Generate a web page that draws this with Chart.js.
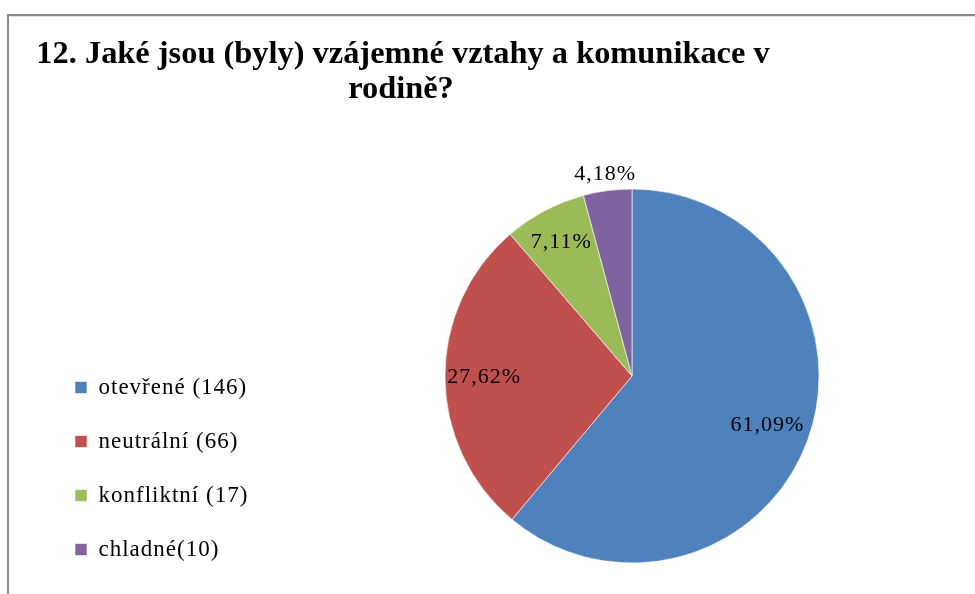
<!DOCTYPE html>
<html>
<head>
<meta charset="utf-8">
<script src="https://cdn.jsdelivr.net/npm/chart.js@4.4.0/dist/chart.umd.min.js"></script>
<style>
html, body { margin: 0; padding: 0; background: #fff; overflow: hidden; }
#pie_chart { display: block; }
</style>
</head>
<body>
<canvas id="pie_chart" width="1060" height="594"></canvas>
<script>
var titleLines = ["12. Jaké jsou (byly) vzájemné vztahy a komunikace v", "rodině?"]
var categories = ["otevřené (146)", "neutrální (66)", "konfliktní (17)", "chladné(10)"]
var counts = [146, 66, 17, 10]
var sliceColors = ["#4F81BD", "#C0504D", "#9BBB59", "#8064A2"]
// how far out each percentage label sits (share of the radius)
var labelRadius = [0.77, 0.79, 0.81, 1.09]

var serif = '"Liberation Serif", "Times New Roman", serif'

// white page, grey frame line at top and left, and the title
var framePlugin = {
    id: 'frame',
    beforeLayout: function (chart) {
        chart.ctx.letterSpacing = '1px'
    },
    beforeDraw: function (chart) {
        var c = chart.ctx
        c.save()
        c.fillStyle = '#fff'
        c.fillRect(0, 0, chart.width, chart.height)
        c.strokeStyle = '#8a8a8a'
        c.lineWidth = 2
        c.beginPath()
        c.moveTo(8, chart.height)
        c.lineTo(8, 15)
        c.lineTo(chart.width, 15)
        c.stroke()
        c.strokeStyle = '#e2e2e2'
        c.lineWidth = 1
        c.beginPath()
        c.moveTo(10, 16.5)
        c.lineTo(chart.width, 16.5)
        c.stroke()
        c.restore()
        c.letterSpacing = '1px'
    },
    afterDraw: function (chart) {
        var c = chart.ctx
        c.save()
        c.letterSpacing = '0px'
        c.fillStyle = '#000'
        c.font = 'bold 32.4px ' + serif
        c.textAlign = 'center'
        c.textBaseline = 'alphabetic'
        c.fillText(titleLines[0], 403, 63)
        c.fillText(titleLines[1], 401, 98)
        c.restore()
    }
}

// percentage labels on the slices
var percentPlugin = {
    id: 'percent',
    afterDatasetsDraw: function (chart) {
        var c = chart.ctx
        var total = counts.reduce(function (a, b) { return a + b }, 0)
        var arcs = chart.getDatasetMeta(0).data
        c.save()
        c.letterSpacing = '1px'
        c.fillStyle = '#000'
        c.font = '22px ' + serif
        c.textAlign = 'center'
        c.textBaseline = 'middle'
        arcs.forEach(function (arc, i) {
            var p = arc.getProps(['x', 'y', 'startAngle', 'endAngle', 'outerRadius'], true)
            var mid = (p.startAngle + p.endAngle) / 2
            var r = p.outerRadius * labelRadius[i]
            var txt = (counts[i] / total * 100).toFixed(2).replace('.', ',') + '%'
            c.fillText(txt, p.x + Math.cos(mid) * r, p.y + Math.sin(mid) * r)
        })
        c.restore()
    }
}

var ctx = document.getElementById("pie_chart")

var myPieChart = new Chart(ctx, {
    type: 'pie',
    data: {
        labels: categories,
        datasets: [
            {
                data: counts,
                backgroundColor: sliceColors,
                borderColor: 'rgba(255,255,255,0.6)',
                borderWidth: 1,
                radius: 187
            }
        ]
    },
    options: {
        responsive: false,
        animation: false,
        layout: {
            padding: { left: 44, right: 55, top: 160, bottom: 2 }
        },
        plugins: {
            tooltip: { enabled: false },
            legend: {
                position: 'left',
                align: 'end',
                labels: {
                    boxWidth: 12,
                    boxHeight: 12,
                    padding: 31,
                    color: '#000',
                    font: { family: serif, size: 23 }
                }
            }
        }
    },
    plugins: [framePlugin, percentPlugin]
});

// put the pie centre where it sits in the picture
var area = myPieChart.chartArea
var shift = (area.left + area.right) / 2 - 632
myPieChart.options.layout.padding.right += 2 * shift
myPieChart.update('none')
</script>
</body>
</html>
